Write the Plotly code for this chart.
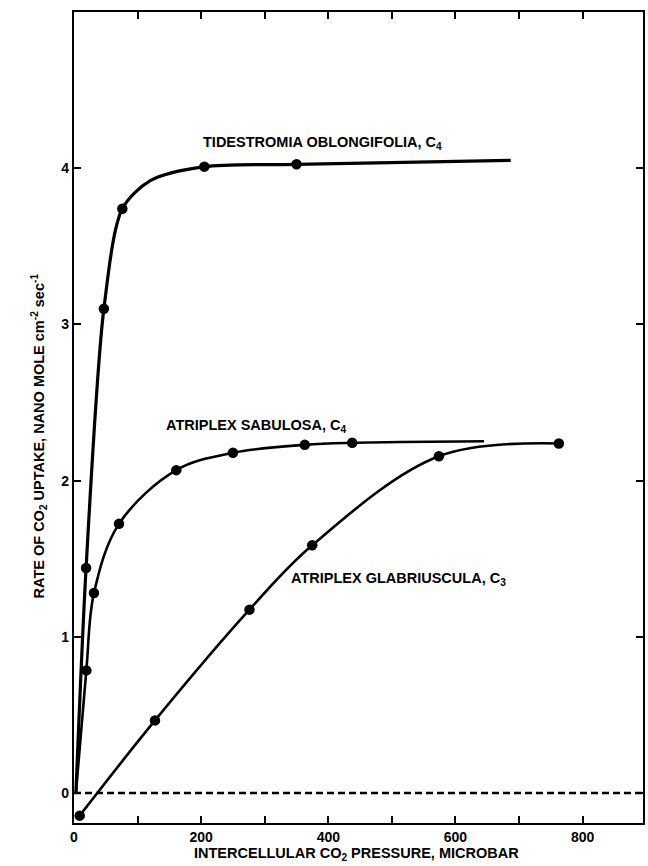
import plotly.graph_objects as go

# ---- data ----
tid_x = [3, 19, 47, 76, 120, 205, 350, 687]
tid_y = [0.0, 1.44, 3.10, 3.74, 3.92, 4.01, 4.025, 4.05]
tid_pts = [False, True, True, True, False, True, True, False]

sab_x = [3, 19.4, 31.4, 70.8, 160.9, 250, 363, 437.6, 645]
sab_y = [0.0, 0.785, 1.28, 1.723, 2.067, 2.178, 2.229, 2.242, 2.252]
sab_pts = [False, True, True, True, True, True, True, True, False]

gla_x = [9, 127.4, 276, 374.7, 574, 762.6]
gla_y = [-0.145, 0.465, 1.174, 1.586, 2.156, 2.238]
gla_pts = [True, True, True, True, True, True]

x_ticks = [0, 100, 200, 300, 400, 500, 600, 700, 800]
x_ticklabels = ["0", "", "200", "", "400", "", "600", "", "800"]
y_ticks = [0, 1, 2, 3, 4]
y_ticklabels = ["0", "1", "2", "3", "4"]

labels = [
    ("TIDESTROMIA OBLONGIFOLIA, C<sub>4</sub>", 199, 4.16),
    ("ATRIPLEX SABULOSA, C<sub>4</sub>", 141.5, 2.35),
    ("ATRIPLEX GLABRIUSCULA, C<sub>3</sub>", 338, 1.37),
]

FONT = "Liberation Sans, Arial, Helvetica, sans-serif"
TXT = dict(family=FONT, size=14.5, color="black", weight="bold")

fig = go.Figure()


def add_curve(xs, ys, pts, width, smooth):
    fig.add_trace(go.Scatter(
        x=xs, y=ys, mode="lines+markers",
        line=dict(color="black", width=width, shape="spline", smoothing=smooth),
        marker=dict(color="#000000", opacity=1,
                    size=[10.5 if p else 0 for p in pts],
                    line=dict(width=0)),
        cliponaxis=False, showlegend=False, hoverinfo="skip",
    ))


add_curve(tid_x, tid_y, tid_pts, 3.2, 0.8)
add_curve(sab_x, sab_y, sab_pts, 2.6, 1.0)
add_curve(gla_x, gla_y, gla_pts, 2.6, 1.0)

# dashed zero line
fig.add_shape(type="line", xref="paper", yref="y", x0=0, x1=1, y0=0, y1=0,
              line=dict(color="black", width=2.5, dash="7px,4px"))

for txt, xv, yv in labels:
    fig.add_annotation(x=xv, y=yv, text=txt, showarrow=False, xanchor="left",
                       yanchor="middle", font=TXT)

fig.add_annotation(
    xref="paper", yref="paper", x=-0.061, y=0.477,
    text="RATE OF CO<sub>2</sub> UPTAKE, NANO MOLE cm<sup>-2</sup> sec<sup>-1</sup>",
    textangle=-90, showarrow=False, xanchor="center", yanchor="middle", font=TXT)

fig.add_annotation(
    xref="paper", yref="paper", x=0.497, y=-0.038,
    text="INTERCELLULAR CO<sub>2</sub> PRESSURE, MICROBAR",
    showarrow=False, xanchor="center", yanchor="middle", font=TXT)

axis_common = dict(
    showgrid=False, zeroline=False, showline=True, linecolor="black",
    linewidth=2.2, mirror="ticks", ticks="inside", ticklen=7, tickwidth=1.8,
    tickcolor="black",
    tickfont=dict(family=FONT, size=14, color="black", weight="bold"),
)

fig.update_xaxes(range=[0, 895], tickmode="array", tickvals=x_ticks,
                 ticktext=x_ticklabels, ticklabelstandoff=0, **axis_common)
fig.update_yaxes(range=[-0.192, 5.0], tickmode="array", tickvals=y_ticks,
                 ticktext=y_ticklabels, **axis_common)

fig.update_layout(
    width=648, height=866,
    margin=dict(l=74, r=3, t=12, b=43),
    paper_bgcolor="white", plot_bgcolor="white",
    showlegend=False,
)

fig.write_html("out.html")
